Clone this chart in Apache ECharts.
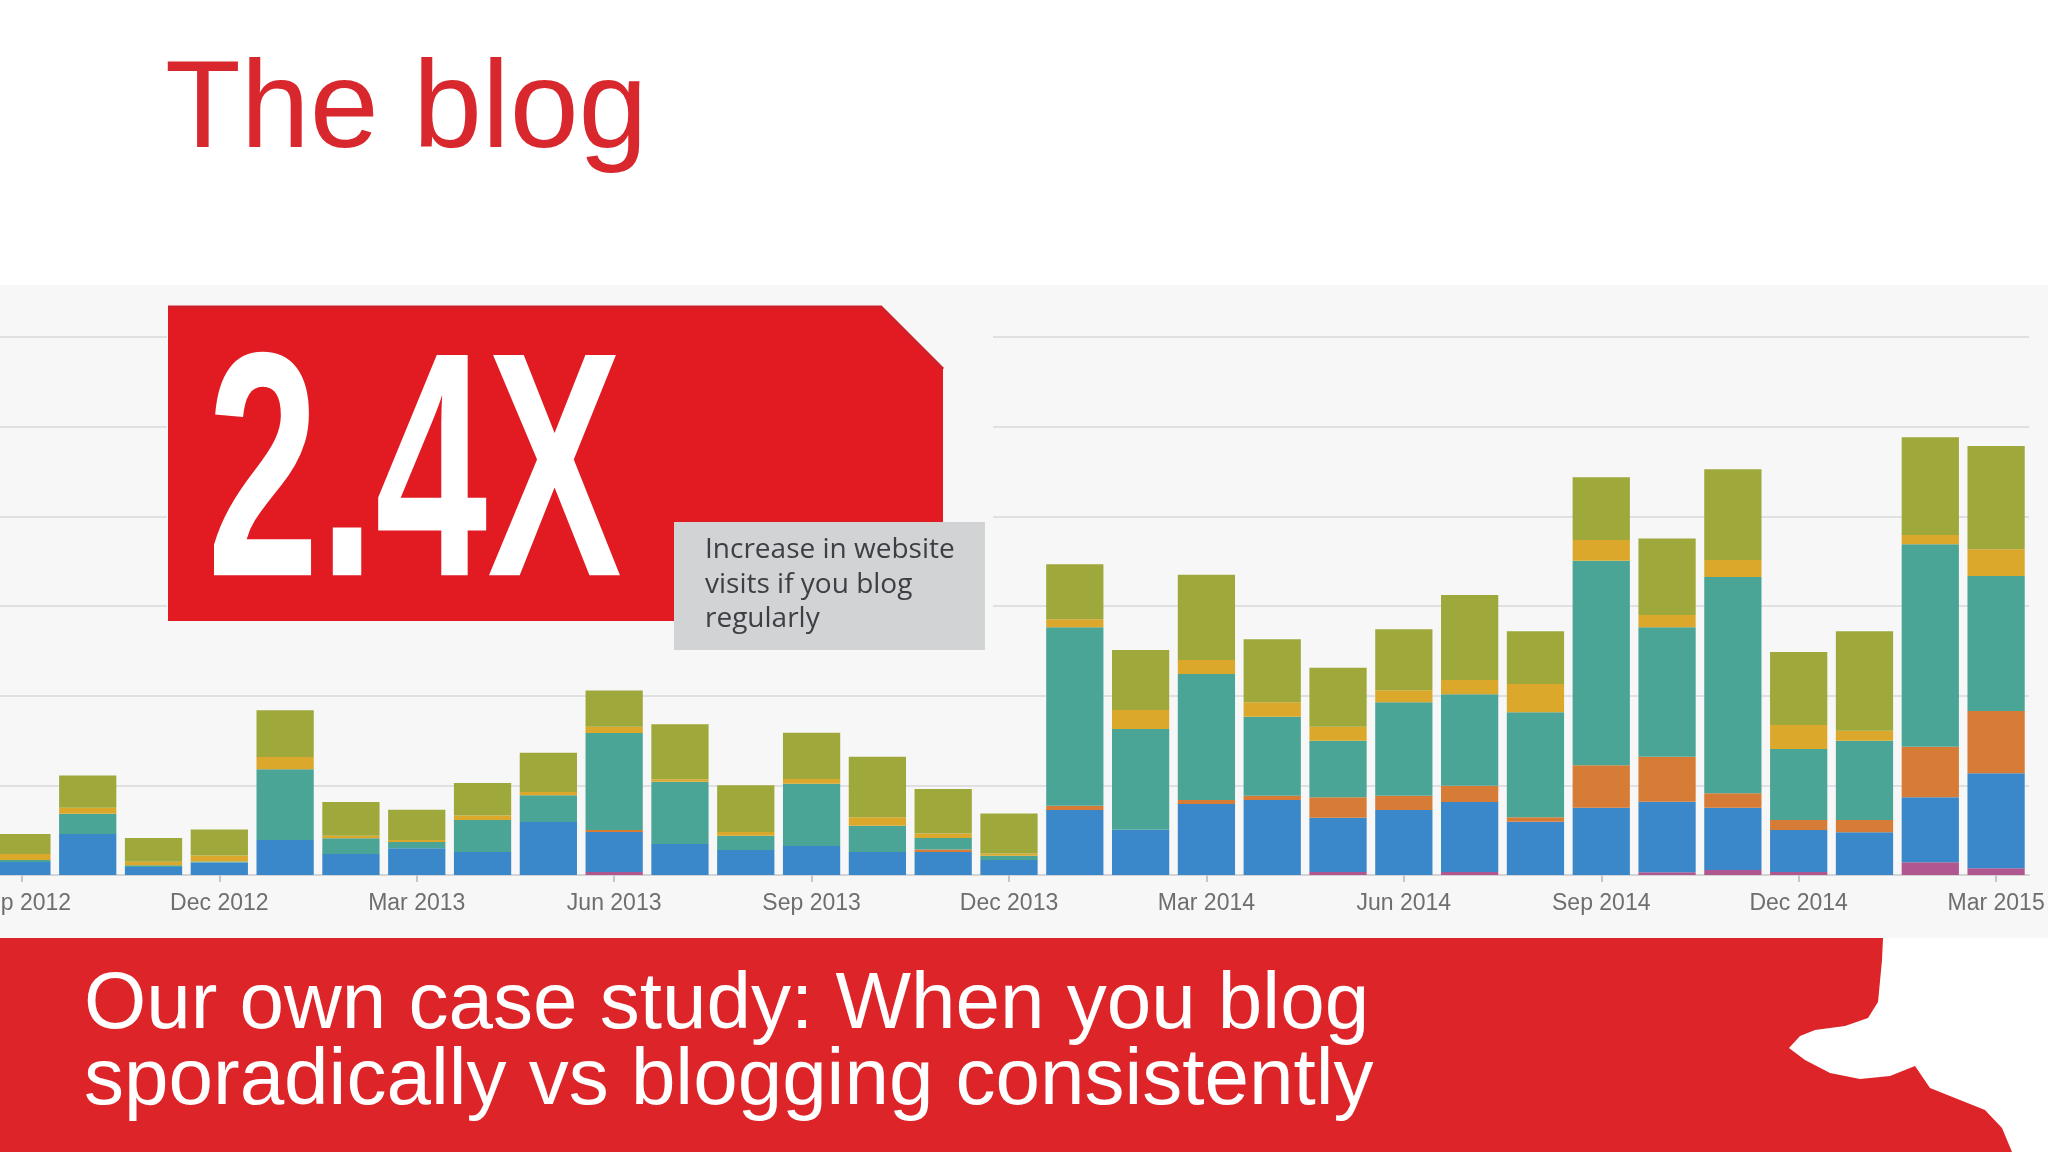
<!DOCTYPE html>
<html>
<head>
<meta charset="utf-8">
<style>
  html, body { margin:0; padding:0; background:#ffffff; }
  #chart { width:2048px; height:1152px; }
</style>
<script src="https://cdn.jsdelivr.net/npm/echarts@6/dist/echarts.min.js"></script>
</head>
<body>
<div id="chart"></div>
<script>
// ---- data ----
const months = ['Sep 2012','Oct 2012','Nov 2012','Dec 2012','Jan 2013','Feb 2013','Mar 2013','Apr 2013','May 2013','Jun 2013','Jul 2013','Aug 2013','Sep 2013','Oct 2013','Nov 2013','Dec 2013','Jan 2014','Feb 2014','Mar 2014','Apr 2014','May 2014','Jun 2014','Jul 2014','Aug 2014','Sep 2014','Oct 2014','Nov 2014','Dec 2014','Jan 2015','Feb 2015','Mar 2015'];
const pinkVals   = [0,0,0,0,0,0,0,0,0,33,0,0,0,0,0,0,0,0,0,0,33,0,33,0,0,30,56,33,0,142,75];
const blueVals   = [145,457,89,139,390,234,298,256,591,446,346,279,323,256,256,167,725,505,792,836,606,725,781,594,751,787,695,468,476,725,1059];
const orangeVals = [0,0,0,0,0,0,0,0,0,22,0,0,0,0,28,0,48,0,45,48,228,159,182,49,473,502,161,112,137,564,695];
const tealVals   = [22,226,19,11,788,175,70,357,298,1082,695,159,695,293,128,48,1990,1123,1405,881,631,1042,1019,1171,2282,1443,2412,792,884,2257,1506];
const goldVals   = [67,67,41,67,137,29,22,50,37,70,26,41,52,94,52,26,89,212,156,161,156,134,159,316,231,137,190,268,112,104,298];
const oliveVals  = [223,361,264,290,521,376,338,362,438,406,613,521,516,676,494,446,613,669,951,703,658,680,948,588,699,855,1011,814,1109,1090,1152];

const titleText = 'The blog';
const bigStat = '2.4X';
const calloutLines = ['Increase in website', 'visits if you blog', 'regularly'];
const footerLines = ['Our own case study: When you blog', 'sporadically vs blogging consistently'];

const seriesDefs = [
  { name: 'Series 1', data: pinkVals,   color: '#b0578f' },
  { name: 'Series 2', data: blueVals,   color: '#3a88c9' },
  { name: 'Series 3', data: orangeVals, color: '#d67c37' },
  { name: 'Series 4', data: tealVals,   color: '#4aa597' },
  { name: 'Series 5', data: goldVals,   color: '#dba82b' },
  { name: 'Series 6', data: oliveVals,  color: '#9ea83b' }
];

const chart = echarts.init(document.getElementById('chart'), null, { renderer: 'canvas' });

const option = {
  backgroundColor: '#ffffff',
  animation: false,
  grid: { left: -11, right: 19, top: 337, bottom: 277, containLabel: false, outerBoundsMode: 'none' },
  xAxis: {
    type: 'category',
    data: months,
    boundaryGap: true,
    axisLine: { show: true, lineStyle: { color: '#d4d4d6', width: 2 } },
    axisTick: { show: true, interval: 2, alignWithLabel: true, length: 7, lineStyle: { color: '#c6c6c8', width: 2 } },
    axisLabel: { interval: 2, fontSize: 23, color: '#6e6e6e', fontFamily: 'Liberation Sans', margin: 17, hideOverlap: false },
    splitLine: { show: false }
  },
  yAxis: {
    type: 'value',
    min: 0, max: 6000, interval: 1000,
    axisLabel: { show: false },
    axisLine: { show: false },
    axisTick: { show: false },
    splitLine: { show: true, lineStyle: { color: '#e0e0e2', width: 2 } }
  },
  series: seriesDefs.map(s => ({
    name: s.name,
    type: 'bar',
    stack: 'visits',
    data: s.data,
    barWidth: '87%',
    itemStyle: { color: s.color },
    emphasis: { disabled: true }
  })),
  graphic: [
    // chart panel background
    { type: 'rect', z: -10, shape: { x: 0, y: 285, width: 2048, height: 655 }, style: { fill: '#f7f7f8' } },
    // overlay covering gridlines behind infographic
    { type: 'rect', z: 50, shape: { x: 167, y: 296, width: 826, height: 356 }, style: { fill: '#f7f7f8' } },
    // red stat box with chamfered corner
    { type: 'polygon', z: 51, shape: { points: [[168,306],[881,306],[943,368],[943,621],[168,621]] }, style: { fill: '#e21b23' } },
    { type: 'polyline', z: 52, shape: { points: [[168,307],[881,307],[943,369]] }, style: { stroke: '#cf2129', lineWidth: 3, fill: null } },
    // big stat text
    { type: 'text', z: 53, x: 207, y: 487, scaleX: 0.63, scaleY: 1,
      style: { text: bigStat, fill: '#ffffff', font: 'bold 320px "Liberation Sans"', textAlign: 'left', textVerticalAlign: 'middle' } },
    // gray callout
    { type: 'rect', z: 54, shape: { x: 674, y: 522, width: 311, height: 128 }, style: { fill: '#d2d3d5' } },
    { type: 'text', z: 55, x: 705, y: 550, style: { text: calloutLines[0], fill: '#3c3f44', font: '28px "Open Sans"', textVerticalAlign: 'middle' } },
    { type: 'text', z: 55, x: 705, y: 585, style: { text: calloutLines[1], fill: '#3c3f44', font: '28px "Open Sans"', textVerticalAlign: 'middle' } },
    { type: 'text', z: 55, x: 705, y: 619, style: { text: calloutLines[2], fill: '#3c3f44', font: '28px "Open Sans"', textVerticalAlign: 'middle' } },
    // title
    { type: 'text', z: 60, x: 165, y: 113, style: { text: titleText, fill: '#d9272e', font: '124px "Liberation Sans"', textVerticalAlign: 'middle' } },
    // footer band
    { type: 'rect', z: 60, shape: { x: 0, y: 938, width: 2048, height: 214 }, style: { fill: '#dd2429' } },
    // white bird silhouette on the right
    { type: 'polygon', z: 61, shape: { points: [[1883,938],[2048,938],[2048,1152],[2012,1152],[2002,1128],[1985,1110],[1955,1098],[1930,1088],[1915,1066],[1890,1076],[1860,1079],[1830,1073],[1805,1060],[1789,1048],[1800,1036],[1815,1030],[1845,1026],[1868,1018],[1878,1002],[1882,960]] }, style: { fill: '#ffffff' } },
    { type: 'text', z: 62, x: 84, y: 1006, style: { text: footerLines[0], fill: '#ffffff', font: '80px "Liberation Sans"', textVerticalAlign: 'middle' } },
    { type: 'text', z: 62, x: 84, y: 1082, style: { text: footerLines[1], fill: '#ffffff', font: '80px "Liberation Sans"', textVerticalAlign: 'middle' } }
  ]
};

chart.setOption(option);
</script>
</body>
</html>
